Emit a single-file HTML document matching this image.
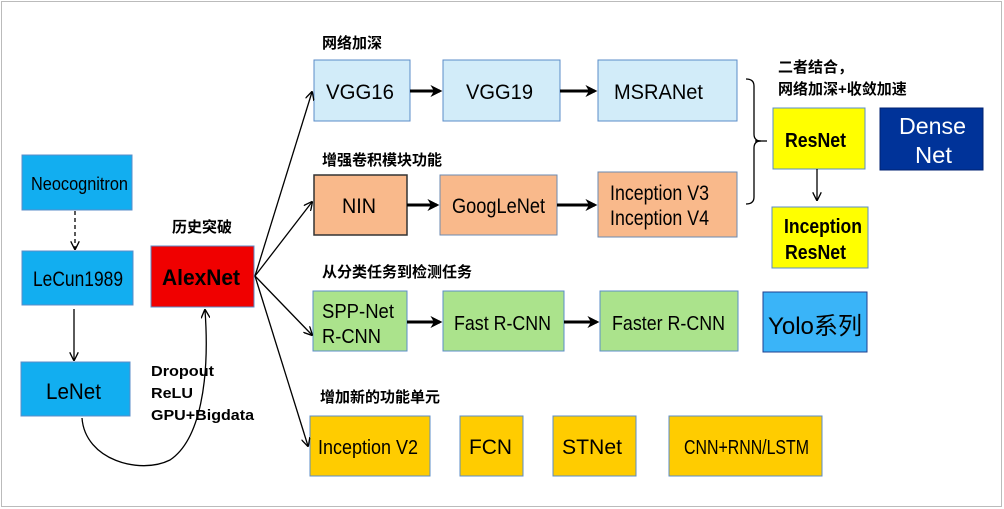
<!DOCTYPE html>
<html><head><meta charset="utf-8"><style>
html,body{margin:0;padding:0;background:#fff}
svg{display:block}
text{font-family:"Liberation Sans","Noto Sans CJK SC",sans-serif;fill:#000}
.c{font-family:"Liberation Sans","Noto Sans CJK SC",sans-serif;font-weight:bold;font-size:15px}
</style></head><body>
<svg width="1004" height="509" viewBox="0 0 1004 509" xmlns="http://www.w3.org/2000/svg">
<defs>
<marker id="a" viewBox="0 0 10 10" refX="9" refY="5" markerWidth="9" markerHeight="9" orient="auto" markerUnits="userSpaceOnUse"><path d="M0,0 L10,5 L0,10" fill="none" stroke="#000" stroke-width="1.5"/></marker>
<marker id="b" viewBox="0 0 10 10" refX="8" refY="5" markerWidth="12" markerHeight="12" orient="auto" markerUnits="userSpaceOnUse"><path d="M0,0 L10,5 L0,10 L3,5z" fill="#000"/></marker>
</defs>
<rect x="1.5" y="1.5" width="1000" height="505" fill="#fff" stroke="#bbb"/>
<g stroke="#5b8cc8" stroke-width="1">
<rect x="22" y="155" width="110" height="55" fill="#12aef0"/>
<rect x="22" y="251" width="111" height="54" fill="#12aef0"/>
<rect x="21" y="362" width="109" height="54" fill="#12aef0"/>
<rect x="151" y="246" width="103" height="61" fill="#f00000"/>
<rect x="314" y="60" width="96" height="61" fill="#d2ecf9"/>
<rect x="443" y="60" width="117" height="61" fill="#d2ecf9"/>
<rect x="598" y="60" width="139" height="61" fill="#d2ecf9"/>
<rect x="313" y="291" width="94" height="60" fill="#abe38c"/>
<rect x="443" y="291" width="121" height="60" fill="#abe38c"/>
<rect x="600" y="291" width="138" height="60" fill="#abe38c"/>
<rect x="763" y="292" width="104" height="60" fill="#3ab4f8" stroke="#1f3f8f"/>
<rect x="310" y="416" width="120" height="60" fill="#ffcc00"/>
<rect x="460" y="416" width="63" height="60" fill="#ffcc00"/>
<rect x="553" y="416" width="83" height="60" fill="#ffcc00"/>
<rect x="669" y="416" width="153" height="60" fill="#ffcc00"/>
<rect x="773" y="108" width="92" height="61" fill="#ffff00"/>
<rect x="772" y="207" width="96" height="61" fill="#ffff00"/>
<rect x="880" y="108" width="103" height="62" fill="#003399" stroke="#002070"/>
</g>
<g stroke="#333" stroke-width="1.5">
<rect x="314" y="175" width="93" height="60" fill="#f9b98b"/>
<rect x="440" y="175" width="117" height="60" fill="#f9b98b" stroke="#6b8ab0" stroke-width="1"/>
<rect x="598" y="172" width="139" height="65" fill="#f9b98b" stroke="#6b8ab0" stroke-width="1"/>
</g>
<g stroke="#000" stroke-width="1.3" fill="none">
<line x1="75" y1="211" x2="75" y2="249" stroke-dasharray="4,3" marker-end="url(#a)"/>
<line x1="74" y1="309" x2="74" y2="360" marker-end="url(#a)"/>
<path d="M82,418 C85,460 140,475 170,460 C200,440 210,380 205,310" marker-end="url(#a)"/>
<line x1="255" y1="276" x2="312" y2="92" marker-end="url(#a)"/>
<line x1="255" y1="276" x2="312" y2="202" marker-end="url(#a)"/>
<line x1="255" y1="276" x2="312" y2="335" marker-end="url(#a)"/>
<line x1="255" y1="276" x2="308" y2="446" marker-end="url(#a)"/>
<line x1="817" y1="169" x2="817" y2="200" marker-end="url(#a)"/>
<path d="M746,79 Q754,79 754,86 L754,134 Q754,141 761,141 Q754,141 754,148 L754,197 Q754,204 746,204"/>
<line x1="755" y1="141" x2="767" y2="141"/>
</g>
<g stroke="#000" stroke-width="3" fill="none">
<line x1="410" y1="91" x2="440" y2="91" marker-end="url(#b)"/>
<line x1="560" y1="91" x2="595" y2="91" marker-end="url(#b)"/>
<line x1="407" y1="205" x2="437" y2="205" marker-end="url(#b)"/>
<line x1="557" y1="205" x2="595" y2="205" marker-end="url(#b)"/>
<line x1="407" y1="322" x2="440" y2="322" marker-end="url(#b)"/>
<line x1="564" y1="322" x2="597" y2="322" marker-end="url(#b)"/>
</g>
<g font-size="21">
<text x="31" y="190" font-size="18" textLength="97" lengthAdjust="spacingAndGlyphs">Neocognitron</text>
<text x="33" y="286" textLength="90" lengthAdjust="spacingAndGlyphs">LeCun1989</text>
<text x="46" y="399" font-size="22" textLength="55" lengthAdjust="spacingAndGlyphs">LeNet</text>
<text x="162" y="285" font-weight="bold" font-size="22" textLength="78" lengthAdjust="spacingAndGlyphs">AlexNet</text>
<text x="326" y="99" textLength="68" lengthAdjust="spacingAndGlyphs">VGG16</text>
<text x="466" y="99" textLength="67" lengthAdjust="spacingAndGlyphs">VGG19</text>
<text x="614" y="99" textLength="89" lengthAdjust="spacingAndGlyphs">MSRANet</text>
<text x="342" y="213" textLength="34" lengthAdjust="spacingAndGlyphs">NIN</text>
<text x="452" y="213" textLength="93" lengthAdjust="spacingAndGlyphs">GoogLeNet</text>
<text x="610" y="200" textLength="99" lengthAdjust="spacingAndGlyphs">Inception V3</text>
<text x="610" y="225" textLength="99" lengthAdjust="spacingAndGlyphs">Inception V4</text>
<text x="322" y="318" font-size="20" textLength="72" lengthAdjust="spacingAndGlyphs">SPP-Net</text>
<text x="322" y="343" font-size="20" textLength="59" lengthAdjust="spacingAndGlyphs">R-CNN</text>
<text x="454" y="330" font-size="20" textLength="97" lengthAdjust="spacingAndGlyphs">Fast R-CNN</text>
<text x="612" y="330" font-size="20" textLength="113" lengthAdjust="spacingAndGlyphs">Faster R-CNN</text>
<text x="768" y="334" font-size="24" textLength="94" lengthAdjust="spacingAndGlyphs">Yolo系列</text>
<text x="318" y="454" font-size="20" textLength="100" lengthAdjust="spacingAndGlyphs">Inception V2</text>
<text x="469" y="454" textLength="43" lengthAdjust="spacingAndGlyphs">FCN</text>
<text x="562" y="454" textLength="60" lengthAdjust="spacingAndGlyphs">STNet</text>
<text x="684" y="454" font-size="20" textLength="125" lengthAdjust="spacingAndGlyphs">CNN+RNN/LSTM</text>
<text x="785" y="147" font-weight="bold" font-size="20" textLength="61" lengthAdjust="spacingAndGlyphs">ResNet</text>
<text x="784" y="233" font-weight="bold" font-size="20" textLength="78" lengthAdjust="spacingAndGlyphs">Inception</text>
<text x="785" y="259" font-weight="bold" font-size="20" textLength="61" lengthAdjust="spacingAndGlyphs">ResNet</text>
<text x="899" y="134" font-size="23" style="fill:#fff" textLength="67" lengthAdjust="spacingAndGlyphs">Dense</text>
<text x="915" y="163" font-size="23" style="fill:#fff" textLength="37" lengthAdjust="spacingAndGlyphs">Net</text>
</g>
<text class="c" x="322" y="48">网络加深</text>
<text class="c" x="322" y="165">增强卷积模块功能</text>
<text class="c" x="322" y="277">从分类任务到检测任务</text>
<text class="c" x="320" y="402">增加新的功能单元</text>
<text class="c" x="172" y="232">历史突破</text>
<text class="c" x="778" y="72">二者结合，</text>
<text class="c" x="778" y="94">网络加深+收敛加速</text>
<text class="c" x="151" y="376" font-size="16" textLength="63" lengthAdjust="spacingAndGlyphs">Dropout</text>
<text class="c" x="151" y="398" font-size="16" textLength="42" lengthAdjust="spacingAndGlyphs">ReLU</text>
<text class="c" x="151" y="420" font-size="16" textLength="103" lengthAdjust="spacingAndGlyphs">GPU+Bigdata</text>
</svg>
</body></html>
